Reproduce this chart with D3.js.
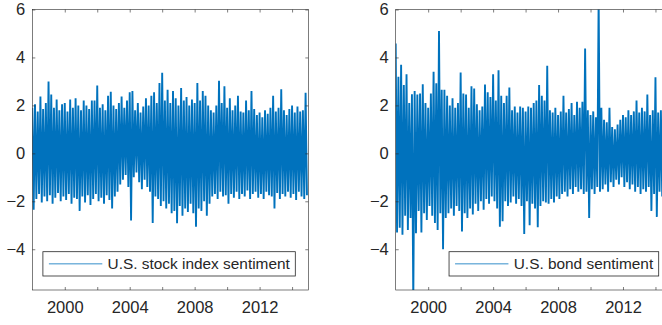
<!DOCTYPE html>
<html><head><meta charset="utf-8">
<script src="https://cdn.jsdelivr.net/npm/d3@7"></script>
<style>
body{margin:0;background:#fff}
svg{display:block}
text{font-family:"Liberation Sans",Arial,Helvetica,sans-serif;fill:#262626}
</style>
</head><body>
<svg id="chart" width="662" height="325"></svg>
<script>
// ---- data (bi-monthly envelope: high then low per sample) ----
const startYear = 1998;
const samplesPerYear = 6;
const xTickValues = [2000, 2002, 2004, 2006, 2008, 2010, 2012, 2014];
const xTickLabels = [2000, 2004, 2008, 2012];
const yTickValues = [-4, -2, 0, 2, 4, 6];
const seriesNames = ["U.S. stock index sentiment", "U.S. bond sentiment"];

const stockHigh = [
  1.9, 2.05, 1.75, 2.37, 1.85, 2.1,
  3.0, 2.45, 1.9, 2.25, 1.8, 2.05,
  2.1, 1.75, 2.25, 1.9, 2.3, 2.0,
  1.8, 2.2, 2.0, 1.85, 2.2, 2.2,
  2.83, 1.9, 2.05, 1.8, 2.4, 2.57,
  2.0, 1.85, 2.1, 2.37, 1.9, 2.2,
  2.55, 2.6, 1.8, 2.1, 1.7, 1.95,
  2.3, 2.0, 2.4, 2.55, 2.1, 2.93,
  3.36, 2.2, 2.65, 2.1, 2.6, 2.3,
  2.0, 2.73, 2.2, 2.35, 2.0, 2.25,
  2.1, 2.93, 2.2, 2.6, 2.4, 2.0,
  1.8, 1.7, 2.0, 3.03, 2.1, 2.8,
  1.9, 2.3, 1.8, 2.0, 2.4, 1.75,
  1.7, 2.2, 1.8, 2.6, 1.85, 1.6,
  1.7, 1.5, 1.8, 1.65, 1.9, 2.4,
  1.75, 1.9, 2.67, 1.8, 1.6, 1.85,
  2.0, 1.7, 1.95, 1.75, 1.8, 2.53
];
const stockLow = [
  -2.35, -1.9, -1.7, -2.05, -1.8, -2.0,
  -1.75, -2.1, -1.85, -1.65, -2.0, -1.8,
  -1.95, -1.7, -2.1, -1.85, -1.9, -2.4,
  -1.8, -2.05, -1.75, -2.15, -1.9, -1.7,
  -2.0, -1.85, -2.1, -1.75, -1.95, -2.3,
  -1.8, -1.6, -1.3, -1.1, -0.9, -1.4,
  -2.8, -1.0, -0.8, -1.2, -1.5, -1.1,
  -1.4, -1.6, -2.9, -1.8, -1.9, -2.2,
  -2.0, -2.3, -2.1, -2.5, -2.4, -2.92,
  -2.2, -2.6, -2.3, -2.45, -2.1, -2.5,
  -3.06, -2.3, -2.4, -2.0, -2.6, -2.1,
  -1.8, -1.7, -1.9, -1.6, -1.8, -1.75,
  -2.1, -1.7, -1.85, -1.6, -1.9, -1.7,
  -1.8, -1.55, -1.9, -1.7, -1.6, -1.85,
  -1.7, -1.9, -1.6, -1.75, -1.8, -2.3,
  -1.65, -1.9, -1.7, -1.8, -1.6, -1.85,
  -1.7, -1.95, -1.6, -1.8, -1.9, -1.75
];
const bondHigh = [
  4.58, 3.19, 3.7, 2.85, 3.3, 2.1,
  2.46, 2.6, 2.45, 2.5, 2.88, 2.1,
  1.9, 2.5, 3.4, 2.92, 5.1, 2.65,
  2.65, 2.4, 2.0, 2.3, 1.9, 2.1,
  3.37, 2.5, 2.45, 1.9, 2.8, 2.7,
  2.05, 1.8, 1.95, 2.87, 2.55, 2.35,
  3.3, 2.2, 3.47, 2.4, 2.1, 2.4,
  2.75, 1.8, 1.95, 1.7, 1.95, 1.9,
  1.75, 1.95, 1.9, 2.1, 2.2, 2.85,
  2.4, 2.2, 3.65, 1.8, 1.7, 1.9,
  1.6, 1.75, 2.4, 1.7, 1.85, 2.1,
  1.6, 2.15, 1.9, 2.15, 4.37, 1.8,
  1.6, 1.75, 1.5, 6.5, 1.9, 1.4,
  1.3, 1.9, 1.1, 1.0, 1.2, 1.4,
  1.6, 1.5, 1.8, 1.6, 1.75, 2.2,
  1.7, 1.9, 1.75, 2.45, 1.6, 1.8,
  3.17, 1.7, 1.8, 1.6, 1.7, 1.5
];
const bondLow = [
  -3.3, -3.1, -3.4, -2.6, -3.2, -2.7,
  -6.2, -3.33, -2.4, -3.3, -2.5, -2.78,
  -2.2, -2.6, -2.9, -3.2, -2.5, -4.0,
  -2.7, -2.5, -2.3, -2.6, -2.2, -2.4,
  -3.26, -2.5, -2.7, -2.3, -2.55, -2.1,
  -2.4, -2.0, -2.35, -1.9, -2.1, -1.8,
  -2.0, -2.3, -3.06, -2.83, -2.0, -2.2,
  -2.05, -1.8, -2.1, -1.9, -2.2, -3.36,
  -2.0, -3.0, -2.1, -2.3, -3.08, -2.2,
  -2.0, -2.05, -2.1, -1.9, -2.05, -1.8,
  -1.9, -1.7, -1.6, -1.8, -1.5, -1.7,
  -1.4, -1.6, -1.5, -1.7, -1.6, -2.7,
  -1.5, -1.7, -1.4, -1.6, -1.5, -1.3,
  -1.6, -1.2, -1.4, -1.1, -1.3, -1.0,
  -1.4, -1.2, -1.5, -1.3, -1.6, -1.4,
  -1.7, -1.5, -1.6, -1.4, -2.4, -1.7,
  -2.65, -1.6, -1.8, -1.5, -1.7, -1.6
];

// ---- drawing ----
const svg = d3.select("#chart");
const lineColor = "#0072BD";
const axisColor = "#262626";
const plotTop = 9.5, plotBottom = 290, plotWidth = 276;

function drawPanel(left, highs, lows, name, id) {
  const x = d3.scaleLinear().domain([1998, 2015]).range([left, left + plotWidth]);
  const y = d3.scaleLinear().domain([-5.7, 6]).range([plotBottom, plotTop]);
  const g = svg.append("g");

  const pts = [];
  highs.forEach((h, i) => {
    const t = startYear + i / samplesPerYear;
    pts.push([t, h]);
    pts.push([t + 0.5 / samplesPerYear, lows[i]]);
  });

  svg.append("clipPath").attr("id", "clip" + id)
    .append("rect").attr("x", left).attr("y", plotTop)
    .attr("width", plotWidth).attr("height", plotBottom - plotTop);

  g.append("path").datum(pts)
    .attr("clip-path", `url(#clip${id})`)
    .attr("fill", "none").attr("stroke", lineColor)
    .attr("stroke-width", 1.9).attr("stroke-linejoin", "bevel")
    .attr("d", d3.line().x(d => x(d[0])).y(d => y(d[1])));

  const fmtX = d => xTickLabels.includes(d) ? String(d) : "";
  const styleAxis = sel => {
    sel.select(".domain").remove();
    sel.selectAll(".tick line").attr("stroke", axisColor).attr("stroke-width", 0.6);
    sel.selectAll(".tick text").attr("fill", axisColor).style("font-size", "16.5px")
      .style("font-family", '"Liberation Sans",Arial,sans-serif');
  };

  g.append("g").attr("transform", `translate(0,${plotBottom})`)
    .call(d3.axisBottom(x).tickValues(xTickValues).tickFormat(fmtX).tickSize(-3).tickPadding(11.5))
    .call(styleAxis);
  g.append("g").attr("transform", `translate(0,${plotTop})`)
    .call(d3.axisTop(x).tickValues(xTickValues).tickFormat("").tickSize(-3))
    .call(styleAxis);
  g.append("g").attr("transform", `translate(${left},0)`)
    .call(d3.axisLeft(y).tickValues(yTickValues).tickFormat(d3.format("d")).tickSize(-3).tickPadding(7))
    .call(styleAxis);
  g.append("g").attr("transform", `translate(${left + plotWidth},0)`)
    .call(d3.axisRight(y).tickValues(yTickValues).tickFormat("").tickSize(-3))
    .call(styleAxis);

  g.append("rect").attr("x", left).attr("y", plotTop)
    .attr("width", plotWidth).attr("height", plotBottom - plotTop)
    .attr("fill", "none").attr("stroke", axisColor).attr("stroke-width", 0.6);

  // legend (south-east)
  const lg = g.append("g");
  const box = lg.append("rect").attr("fill", "#fff").attr("stroke", axisColor).attr("stroke-width", 0.8);
  const txt = lg.append("text").text(name).style("font-size", "15.4px").attr("fill", axisColor);
  const tw = txt.node().getComputedTextLength();
  const boxRight = left + plotWidth - 13, boxTop = 251.7, boxH = 24.3;
  const boxW = 6 + 53.4 + 5.3 + tw + 5.5;
  const boxLeft = boxRight - boxW;
  box.attr("x", boxLeft).attr("y", boxTop).attr("width", boxW).attr("height", boxH);
  lg.append("line").attr("x1", boxLeft + 6).attr("x2", boxLeft + 59.4)
    .attr("y1", boxTop + boxH / 2).attr("y2", boxTop + boxH / 2)
    .attr("stroke", lineColor).attr("stroke-width", 0.8);
  txt.attr("x", boxLeft + 64.7).attr("y", boxTop + 17.6);
}

drawPanel(32.3, stockHigh, stockLow, seriesNames[0], 0);
drawPanel(395.7, bondHigh, bondLow, seriesNames[1], 1);
</script>
</body></html>
